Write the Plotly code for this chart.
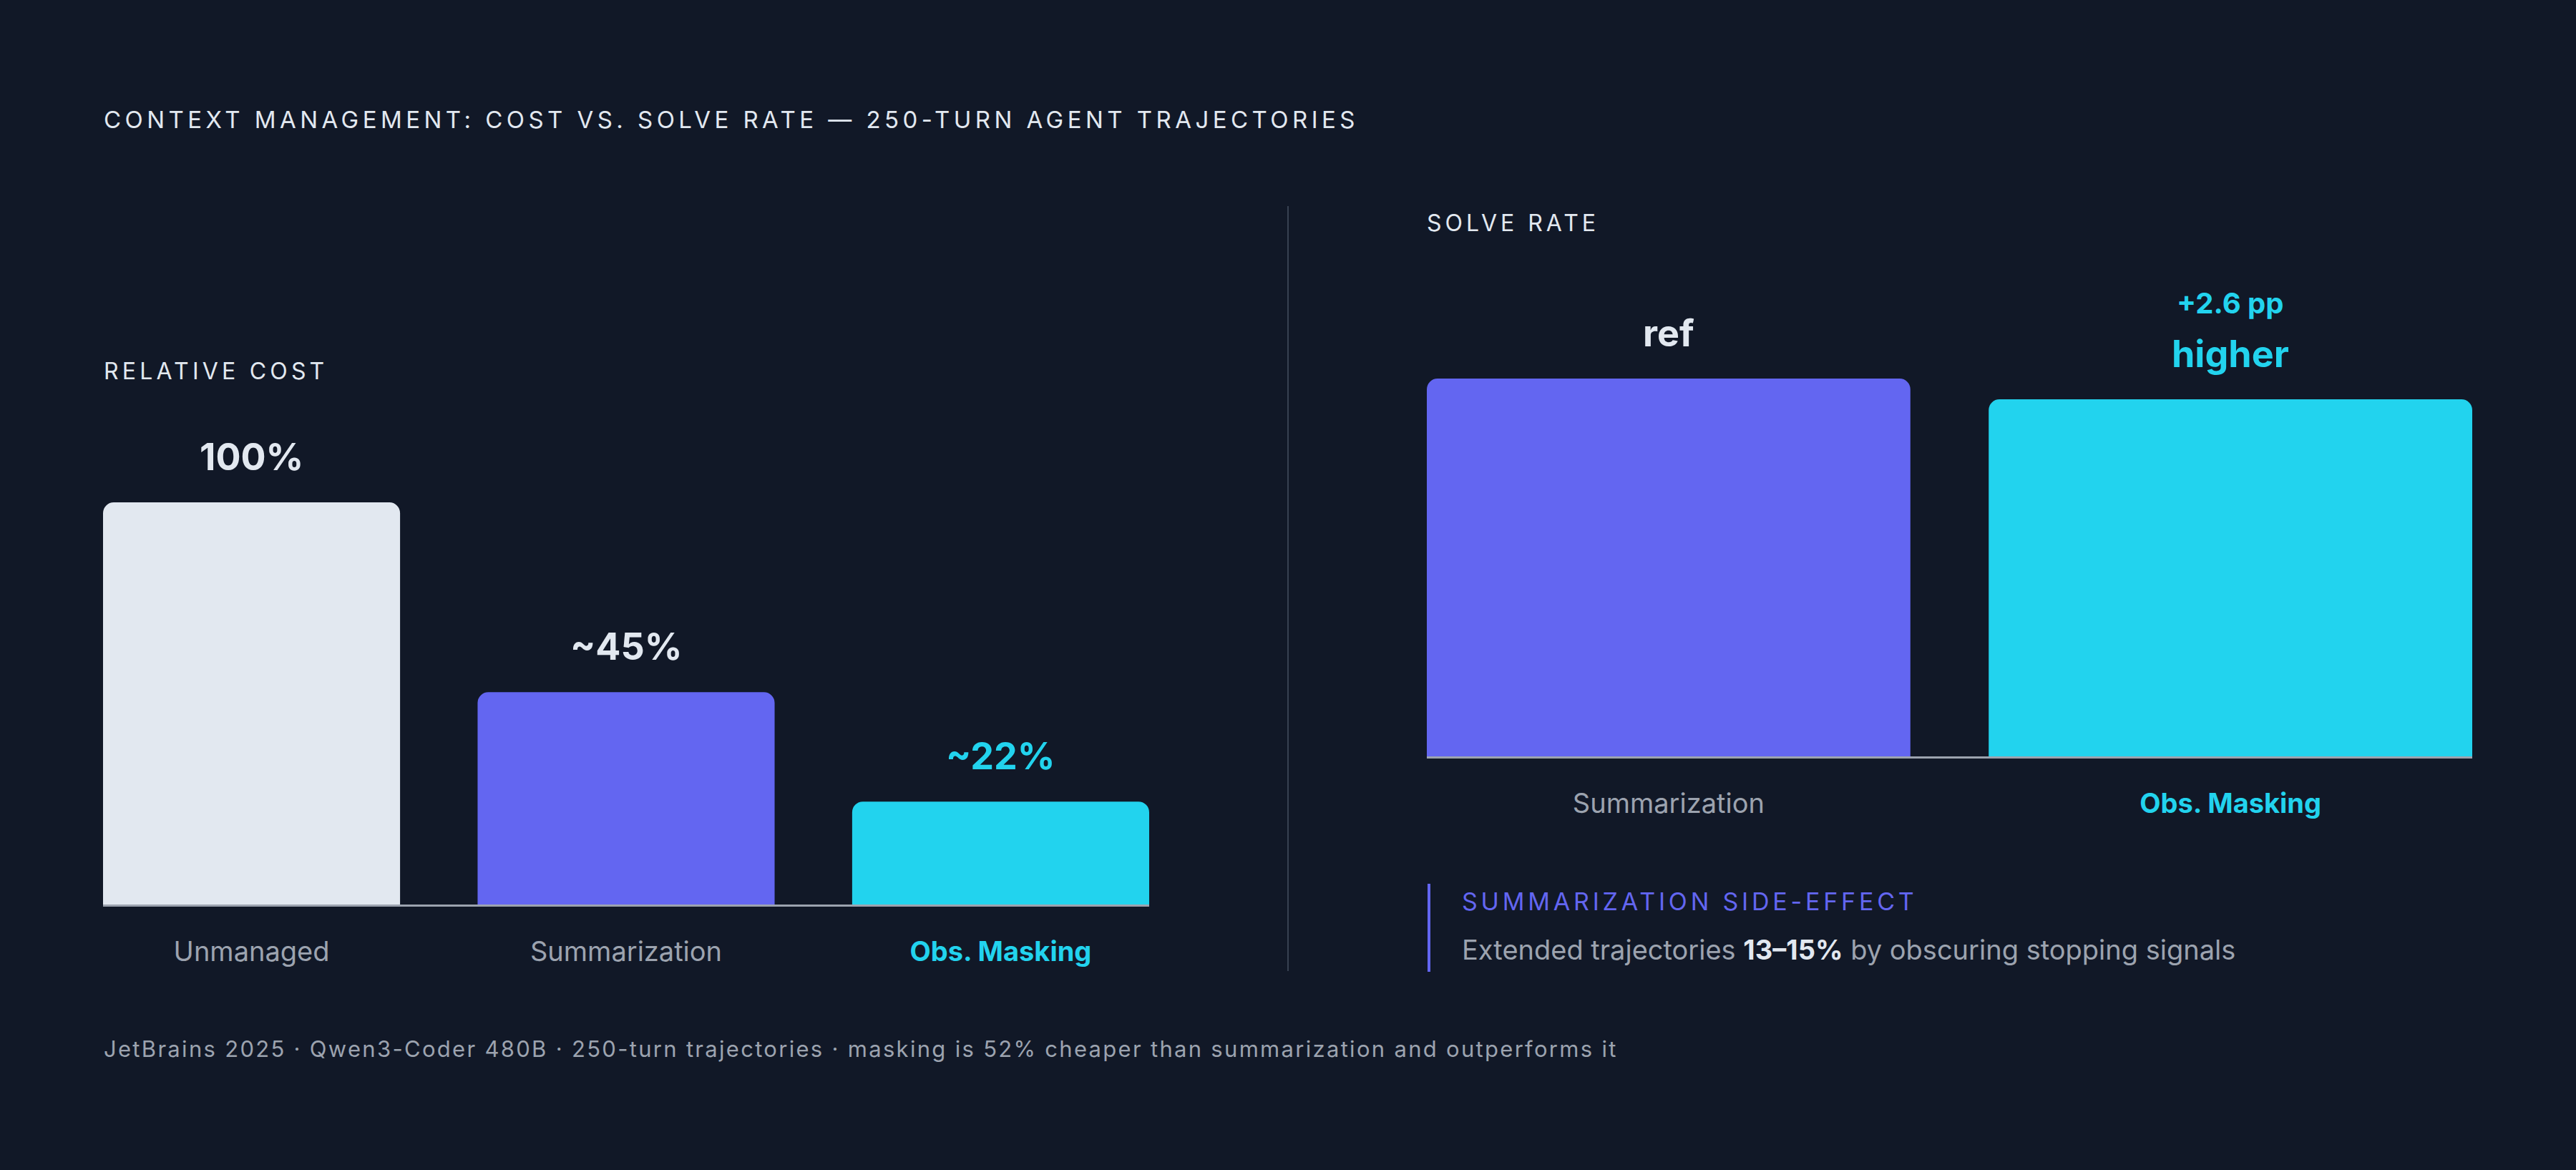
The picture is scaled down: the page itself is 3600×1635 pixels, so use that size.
import plotly.graph_objects as go

# ---------------- data ----------------
cost_categories = ["Unmanaged", "Summarization", "Obs. Masking"]
cost_bar_values = [100, 52.8, 25.6]          # bar heights as drawn (relative cost index)
cost_value_labels = ["100%", "~45%", "~22%"]

solve_categories = ["Summarization", "Obs. Masking"]
solve_bar_values = [100, 94.5]               # bar heights as drawn (relative index)
solve_value_labels = ["ref", "higher"]
solve_delta_label = "+2.6 pp"

title_text = "CONTEXT MANAGEMENT: COST VS. SOLVE RATE — 250-TURN AGENT TRAJECTORIES"
left_header = "RELATIVE COST"
right_header = "SOLVE RATE"
callout_header = "SUMMARIZATION SIDE-EFFECT"
callout_body = ("Extended trajectories ", "13–15%", " by obscuring stopping signals")
footer_text = ("JetBrains 2025 · Qwen3-Coder 480B · 250-turn trajectories · "
               "masking is 52% cheaper than summarization and outperforms it")

# ---------------- style ----------------
W, H = 3600, 1635
BG = "#111827"
WHITE = "#e2e8f0"
GRAY = "#9ca3af"
INDIGO = "#6366f1"
CYAN = "#22d3ee"
FONT = "Inter, 'Noto Sans', sans-serif"

cost_colors = [WHITE, INDIGO, CYAN]
solve_colors = [INDIGO, CYAN]


def px_x(x):
    return x / W


def px_y(y):
    return 1 - y / H


fig = go.Figure()

fig.add_trace(go.Bar(
    x=cost_categories, y=cost_bar_values, xaxis="x", yaxis="y",
    width=0.793, marker=dict(color=cost_colors, line=dict(width=0), cornerradius=15),
    hoverinfo="skip", showlegend=False,
))
fig.add_trace(go.Bar(
    x=solve_categories, y=solve_bar_values, xaxis="x2", yaxis="y2",
    width=0.8606, marker=dict(color=solve_colors, line=dict(width=0), cornerradius=15),
    hoverinfo="skip", showlegend=False,
))


def tick_texts(cats, highlight):
    out = []
    for c in cats:
        if c == highlight:
            out.append(f"<b><span style='color:{CYAN}'>{c}</span></b>")
        else:
            out.append(c)
    return out


axis_common = dict(showgrid=False, zeroline=False, showline=False, ticks="",
                   tickfont=dict(family=FONT, size=38, color=GRAY),
                   ticklabelstandoff=40, fixedrange=True)

fig.update_layout(
    width=W, height=H, paper_bgcolor=BG, plot_bgcolor=BG,
    margin=dict(l=0, r=0, t=0, b=0),
    font=dict(family=FONT, color=WHITE),
    xaxis=dict(domain=[px_x(144), px_x(1606)], range=[-0.3965, 2.3965],
               type="category", tickmode="array", tickvals=cost_categories,
               ticktext=tick_texts(cost_categories, "Obs. Masking"), anchor="y",
               **axis_common),
    yaxis=dict(domain=[px_y(1264), px_y(702)], range=[0, 100], visible=False,
               fixedrange=True, anchor="x"),
    xaxis2=dict(domain=[px_x(1994), px_x(3455)], range=[-0.4303, 1.4303],
                type="category", tickmode="array", tickvals=solve_categories,
                ticktext=tick_texts(solve_categories, "Obs. Masking"), anchor="y2",
                **axis_common),
    yaxis2=dict(domain=[px_y(1057), px_y(529)], range=[0, 100], visible=False,
                fixedrange=True, anchor="x2"),
)

shapes = []
# baselines under bars
shapes.append(dict(type="rect", xref="paper", yref="paper",
                   x0=px_x(144), x1=px_x(1606), y0=px_y(1267), y1=px_y(1264),
                   fillcolor=GRAY, line=dict(width=0), layer="above"))
shapes.append(dict(type="rect", xref="paper", yref="paper",
                   x0=px_x(1994), x1=px_x(3455), y0=px_y(1060), y1=px_y(1057),
                   fillcolor=GRAY, line=dict(width=0), layer="above"))
# divider
shapes.append(dict(type="line", xref="paper", yref="paper",
                   x0=px_x(1800), x1=px_x(1800), y0=px_y(288), y1=px_y(1357),
                   line=dict(color="#374151", width=2)))
# callout bar
shapes.append(dict(type="line", xref="paper", yref="paper",
                   x0=px_x(1997), x1=px_x(1997), y0=px_y(1235), y1=px_y(1358),
                   line=dict(color=INDIGO, width=4)))
fig.update_layout(shapes=shapes)


def spaced(t, sp):
    return f"<span style='letter-spacing:{sp}px'>{t}</span>"


ann = []


def text_ann(x, y, text, size, color, bold=False, anchor="left"):
    t = f"<b>{text}</b>" if bold else text
    ann.append(dict(x=x, y=y, xref="paper", yref="paper", text=t, showarrow=False,
                    xanchor=anchor, yanchor="middle",
                    font=dict(family=FONT, size=size, color=color)))


text_ann(px_x(143), px_y(167), spaced(title_text, 5.45), 33, WHITE)
text_ann(px_x(143), px_y(519), spaced(left_header, 5.2), 32, WHITE)
text_ann(px_x(1992), px_y(311), spaced(right_header, 5), 32, WHITE)
text_ann(px_x(2041), px_y(1259), spaced(callout_header, 4.8), 34, INDIGO)
text_ann(px_x(2041), px_y(1327),
         f"{callout_body[0]}<b><span style='color:{WHITE}'>{callout_body[1]}</span></b>{callout_body[2]}",
         38, GRAY)
text_ann(px_x(143), px_y(1465), spaced(footer_text, 2.3), 31, GRAY)

# value labels above bars
for cat, v, lab, col in zip(cost_categories, cost_bar_values, cost_value_labels,
                            [WHITE, WHITE, CYAN]):
    ann.append(dict(x=cat, y=v, xref="x", yref="y", text=f"<b>{lab}</b>",
                    showarrow=False, xanchor="center", yanchor="bottom", yshift=30,
                    font=dict(family=FONT, size=52, color=col)))
for cat, v, lab, col in zip(solve_categories, solve_bar_values, solve_value_labels,
                            [WHITE, CYAN]):
    ann.append(dict(x=cat, y=v, xref="x2", yref="y2", text=f"<b>{lab}</b>",
                    showarrow=False, xanchor="center", yanchor="bottom", yshift=30,
                    font=dict(family=FONT, size=52, color=col)))
ann.append(dict(x=solve_categories[1], y=solve_bar_values[1], xref="x2", yref="y2",
                text=f"<b>{solve_delta_label}</b>", showarrow=False,
                xanchor="center", yanchor="bottom", yshift=108,
                font=dict(family=FONT, size=40, color=CYAN)))

fig.update_layout(annotations=ann)

fig.write_html("out.html", config={"displayModeBar": False})
